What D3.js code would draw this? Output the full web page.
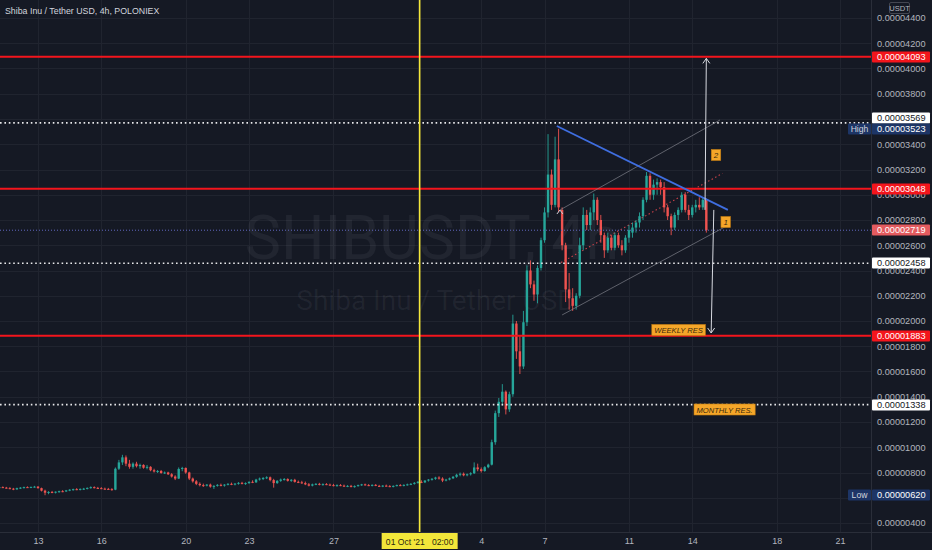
<!DOCTYPE html>
<html>
<head>
<meta charset="utf-8">
<script src="https://cdn.jsdelivr.net/npm/d3@7"></script>
<style>
html, body { margin: 0; padding: 0; background: #151924; }
svg { display: block; font-family: "Liberation Sans", Arial, sans-serif; }
</style>
</head>
<body>
<svg id="chart" width="932" height="550"></svg>
<script>
// all prices are in units of 1e-8 USDT
var TITLE = "Shiba Inu / Tether USD, 4h, POLONIEX";
var firstBar = Date.UTC(2021, 8, 11, 4); // 4h bars from here on
var BAR_MS = 4 * 3600 * 1000;

// [open, high, low, close]
var ohlc = [
  // Sep 11
  [682,690,676,684],[684,690,678,680],[680,686,672,676],[676,684,668,672],[672,678,660,666],
  // Sep 12
  [666,680,664,676],[676,684,670,680],[680,688,674,684],[684,690,678,682],[682,688,676,686],[686,694,680,688],
  // Sep 13
  [688,692,672,676],[676,680,650,656],[656,664,620,640],[640,652,628,646],[646,654,636,642],[642,650,634,648],
  // Sep 14
  [648,656,640,652],[652,660,644,650],[650,662,646,658],[658,668,652,664],[664,672,656,668],[668,676,660,664],
  // Sep 15
  [664,674,658,670],[670,678,662,672],[672,682,666,678],[678,690,672,684],[684,690,674,678],[678,686,670,676],
  // Sep 16
  [676,684,668,672],[672,680,664,670],[670,678,662,668],[668,676,656,664],[664,840,660,830],[830,900,820,880],
  // Sep 17
  [880,940,860,920],[920,935,850,870],[870,900,830,845],[845,880,830,870],[870,885,840,850],[850,870,830,860],
  // Sep 18
  [860,865,830,838],[838,860,825,845],[845,850,810,818],[818,830,800,808],[808,820,796,812],[812,820,790,796],
  // Sep 19
  [796,808,788,800],[800,806,780,786],[786,795,760,768],[768,778,740,752],[752,840,748,828],[828,845,810,836],
  // Sep 20
  [836,840,790,800],[800,806,740,752],[752,760,720,730],[730,740,700,710],[710,722,690,700],[700,712,686,696],
  // Sep 21
  [696,708,690,704],[704,712,680,688],[688,700,670,694],[694,708,688,702],[702,712,690,696],[696,708,688,704],
  // Sep 22
  [704,716,698,710],[710,720,700,706],[706,716,698,712],[712,724,704,718],[718,726,706,712],[712,722,702,716],
  // Sep 23
  [716,730,710,726],[726,738,716,722],[722,750,718,744],[744,760,736,752],[752,764,740,756],[756,770,748,762],
  // Sep 24
  [762,768,730,740],[740,750,680,716],[716,740,710,734],[734,752,726,744],[744,756,736,748],[748,754,728,734],
  // Sep 25
  [734,748,726,742],[742,750,720,726],[726,736,716,722],[722,734,710,716],[716,728,700,706],[706,716,690,696],
  // Sep 26
  [696,712,690,706],[706,716,700,710],[710,718,698,702],[702,714,696,708],[708,716,700,704],[704,712,696,700],
  // Sep 27
  [700,710,690,694],[694,706,688,700],[700,708,692,696],[696,704,686,690],[690,700,684,694],[694,702,682,686],
  // Sep 28
  [686,698,680,692],[692,704,688,700],[700,710,694,706],[706,712,696,700],[700,708,692,696],[696,706,690,702],
  // Sep 29
  [702,708,692,694],[694,702,686,690],[690,700,684,696],[696,704,688,692],[692,700,684,688],[688,698,682,694],
  // Sep 30
  [694,704,690,700],[700,708,692,696],[696,706,690,702],[702,712,696,706],[706,716,700,710],[710,724,704,718],
  // Oct 1
  [718,732,712,726],[726,738,716,722],[722,740,716,736],[736,748,728,744],[744,756,736,750],[750,766,742,760],
  // Oct 2
  [760,770,744,752],[752,762,724,736],[736,750,730,744],[744,760,738,754],[754,772,748,766],[766,790,758,782],
  // Oct 3
  [782,800,770,790],[790,800,770,778],[778,792,770,786],[786,802,776,794],[794,880,788,840],[840,870,810,826],
  // Oct 4
  [826,840,800,812],[812,850,806,842],[842,870,834,862],[862,1060,856,1040],[1040,1290,1020,1270],[1270,1390,1240,1360],
  // Oct 5
  [1360,1500,1330,1440],[1440,1450,1260,1300],[1300,1440,1280,1420],[1420,2050,1400,1980],[1980,2000,1700,1760],[1760,1880,1580,1640],
  // Oct 6
  [1640,2080,1620,1990],[1990,2440,1960,2400],[2400,2480,2260,2290],[2290,2320,2160,2210],[2210,2440,2140,2420],[2420,2660,2400,2640],
  // Oct 7
  [2640,2900,2620,2860],[2860,3480,2820,3160],[3160,3200,2880,2920],[2920,3460,2900,3280],[3280,3523,2860,2900],[2880,2900,2560,2600],
  // Oct 8
  [2600,2620,2150,2250],[2250,2380,2090,2180],[2180,2260,2080,2120],[2120,2220,2090,2200],[2200,2660,2180,2600],[2600,2900,2560,2840],
  // Oct 9
  [2840,2880,2720,2760],[2760,2900,2720,2860],[2860,3010,2800,2960],[2960,2980,2760,2800],[2800,2840,2620,2680],[2680,2700,2500,2560],
  // Oct 10
  [2560,2700,2540,2660],[2660,2680,2560,2580],[2580,2700,2560,2680],[2680,2700,2580,2600],[2600,2640,2520,2560],[2560,2680,2540,2660],
  // Oct 11
  [2660,2760,2620,2720],[2700,2780,2660,2740],[2740,2800,2700,2780],[2780,2860,2740,2830],[2830,2980,2800,2960],[2960,3180,2940,3150],
  // Oct 12
  [3150,3170,2960,3000],[3000,3120,2960,3080],[3080,3130,3000,3100],[3100,3120,3000,3060],[3060,3100,2860,2900],[2900,2920,2800,2830],
  // Oct 13
  [2830,2850,2680,2740],[2740,2860,2720,2840],[2840,2900,2800,2880],[2880,3020,2860,3000],[3000,3020,2860,2880],[2880,2920,2800,2840],
  // Oct 14
  [2840,2920,2820,2900],[2900,2960,2860,2920],[2920,2980,2880,2900],[2900,2980,2880,2960],[2960,2970,2700,2719]
];

var priceTicks = [400,600,800,1000,1200,1400,1600,1800,2000,2200,2400,2600,2800,3000,3200,3400,3600,3800,4000,4200,4400];
var coveredTicks = [600, 3600]; // sit under the High / Low / level tags
var dateTicks = ["2021-09-13","2021-09-16","2021-09-20","2021-09-23","2021-09-27","2021-10-01",
                 "2021-10-04","2021-10-07","2021-10-11","2021-10-14","2021-10-18","2021-10-21"];
var dateTickLabels = ["13","16","20","23","27","","4","7","11","14","18","21"];

var resistanceLevels = [4093, 3048, 1883];   // solid red
var dottedLevels = [3569, 2458, 1338];       // dotted white
var lastPrice = 2719;
var highPrice = 3523, lowPrice = 620;
var crosshairTime = "2021-10-01T02:00Z";
var crosshairLabel = "01 Oct '21   02:00";

// drawings, as [time, price]
var trendLine = [["2021-10-07T14:00Z", 3545], ["2021-10-15T16:30Z", 2880]];
var channelUpper = [["2021-10-07T17:30Z", 2879], ["2021-10-15T07:30Z", 3592]];
var channelLower = [["2021-10-07T20:00Z", 2048], ["2021-10-15T13:00Z", 2745]];
var targetUp = [["2021-10-14T14:30Z", 2880], ["2021-10-14T16:00Z", 4080]];
var targetDown = [["2021-10-15T00:30Z", 2880], ["2021-10-14T21:30Z", 1905]];
var notes = [
  {text: "2", time: "2021-10-15T03:00Z", price: 3315, small: true},
  {text: "1", time: "2021-10-15T14:00Z", price: 2784, small: true},
  {text: "WEEKLY RES", time: "2021-10-12T02:00Z", price: 1929},
  {text: "MONTHLY RES.", time: "2021-10-14T02:00Z", price: 1299}
];

var PLOT_R = 871, PLOT_B = 532;
var UP = "#26a69a", DOWN = "#ef5350";
var RED = "#f3151c", ORANGE = "#f5a629";

var svg = d3.select("#chart");
var x = d3.scaleUtc()
    .domain([new Date("2021-09-13T00:00Z"), new Date("2021-10-21T00:00Z")])
    .range([38, 840]);
var y = d3.scaleLinear().domain([400, 4400]).range([523, 18]);
var pt = function(p) { return [x(new Date(p[0])), y(p[1])]; };
var fmt = function(v) { return (v * 1e-8).toFixed(8); };

svg.append("rect").attr("width", 932).attr("height", 550).attr("fill", "#151924");
svg.append("defs").append("clipPath").attr("id", "plot")
   .append("rect").attr("width", PLOT_R).attr("height", PLOT_B);

// grid
var grid = svg.append("g").attr("stroke", "#20242f").attr("stroke-width", 1);
grid.selectAll(".gy").data(priceTicks).enter().append("line")
    .attr("x1", 0).attr("x2", PLOT_R)
    .attr("y1", function(d) { return Math.round(y(d)) + 0.5; })
    .attr("y2", function(d) { return Math.round(y(d)) + 0.5; });
grid.selectAll(".gx").data(dateTicks).enter().append("line")
    .attr("y1", 0).attr("y2", PLOT_B)
    .attr("x1", function(d) { return Math.round(x(new Date(d))) + 0.5; })
    .attr("x2", function(d) { return Math.round(x(new Date(d))) + 0.5; });

// watermark
var wm = svg.append("g").attr("fill", "#d1d4dc").attr("fill-opacity", 0.065)
    .attr("text-anchor", "middle").attr("font-family", "Roboto, sans-serif");
wm.append("text").attr("x", 432).attr("y", 259).attr("font-size", 61).text("SHIBUSDT, 4h");
wm.append("text").attr("x", 436).attr("y", 310).attr("font-size", 28).text("Shiba Inu / Tether USD");

var plot = svg.append("g").attr("clip-path", "url(#plot)");

// channel mid line sits under the candles
var mid = [
  [(pt(channelUpper[0])[0] + pt(channelLower[0])[0]) / 2, (pt(channelUpper[0])[1] + pt(channelLower[0])[1]) / 2],
  [(pt(channelUpper[1])[0] + pt(channelLower[1])[0]) / 2, (pt(channelUpper[1])[1] + pt(channelLower[1])[1]) / 2]
];
plot.append("line")
    .attr("x1", mid[0][0]).attr("y1", mid[0][1]).attr("x2", mid[1][0]).attr("y2", mid[1][1])
    .attr("stroke", "#c9424a").attr("stroke-width", 1.1).attr("stroke-dasharray", "1.5,2.5");

// candles
var bars = plot.selectAll(".bar").data(ohlc).enter().append("g")
    .attr("transform", function(d, i) { return "translate(" + x(new Date(firstBar + i * BAR_MS)) + ",0)"; });
bars.append("line")
    .attr("y1", function(d) { return y(d[1]); })
    .attr("y2", function(d) { return y(d[2]); })
    .attr("stroke", function(d) { return d[3] >= d[0] ? UP : DOWN; })
    .attr("stroke-width", 0.9);
bars.append("rect")
    .attr("x", -1.2).attr("width", 2.4)
    .attr("y", function(d) { return y(Math.max(d[0], d[3])); })
    .attr("height", function(d) { return Math.max(1, Math.abs(y(d[0]) - y(d[3]))); })
    .attr("fill", function(d) { return d[3] >= d[0] ? UP : DOWN; });

// current price line
plot.append("line").attr("x1", 0).attr("x2", PLOT_R)
    .attr("y1", y(lastPrice)).attr("y2", y(lastPrice))
    .attr("stroke", "#6167c0").attr("stroke-width", 1).attr("stroke-dasharray", "1,2");

// horizontal levels
plot.selectAll(".res").data(resistanceLevels).enter().append("line")
    .attr("x1", 0).attr("x2", PLOT_R)
    .attr("y1", function(d) { return y(d); }).attr("y2", function(d) { return y(d); })
    .attr("stroke", RED).attr("stroke-width", 2);
plot.selectAll(".dot").data(dottedLevels).enter().append("line")
    .attr("x1", 0).attr("x2", PLOT_R)
    .attr("y1", function(d) { return y(d); }).attr("y2", function(d) { return y(d); })
    .attr("stroke", "#e8e8ea").attr("stroke-width", 1.6).attr("stroke-dasharray", "1.6,2.8");

// crosshair
plot.append("line")
    .attr("x1", x(new Date(crosshairTime))).attr("x2", x(new Date(crosshairTime)))
    .attr("y1", 0).attr("y2", PLOT_B)
    .attr("stroke", "#f3e73a").attr("stroke-width", 1.6);

// channel and trend line
[channelUpper, channelLower].forEach(function(seg) {
    var a = pt(seg[0]), b = pt(seg[1]);
    plot.append("line").attr("x1", a[0]).attr("y1", a[1]).attr("x2", b[0]).attr("y2", b[1])
        .attr("stroke", "#8a8d96").attr("stroke-opacity", 0.7).attr("stroke-width", 0.9);
});
(function() {
    var a = pt(channelUpper[0]);
    plot.append("path")
        .attr("d", "M" + (a[0] - 3) + "," + (a[1] + 4) + "L" + a[0] + "," + a[1] + "L" + (a[0] + 3) + "," + (a[1] + 4))
        .attr("fill", "none").attr("stroke", "#c9ccd4").attr("stroke-width", 1);
})();
(function() {
    var a = pt(trendLine[0]), b = pt(trendLine[1]);
    plot.append("line").attr("x1", a[0]).attr("y1", a[1]).attr("x2", b[0]).attr("y2", b[1])
        .attr("stroke", "#3f6ee0").attr("stroke-width", 1.8);
})();

// projection arrows
[targetUp, targetDown].forEach(function(seg) {
    var a = pt(seg[0]), b = pt(seg[1]);
    var dir = b[1] < a[1] ? 1 : -1;
    plot.append("line").attr("x1", a[0]).attr("y1", a[1]).attr("x2", b[0]).attr("y2", b[1])
        .attr("stroke", "#d7d9e0").attr("stroke-width", 1);
    plot.append("path")
        .attr("d", "M" + (b[0] - 3.5) + "," + (b[1] + dir * 5) + "L" + b[0] + "," + b[1] + "L" + (b[0] + 3.5) + "," + (b[1] + dir * 5))
        .attr("fill", "none").attr("stroke", "#d7d9e0").attr("stroke-width", 1);
});

// note labels
notes.forEach(function(n) {
    var px = x(new Date(n.time)), py = y(n.price);
    var g = plot.append("g");
    var t = g.append("text").attr("font-size", n.small ? 8 : 7.6).attr("font-style", "italic")
        .attr("fill", "#3b2a0c").attr("dominant-baseline", "central").text(n.text);
    var w = t.node().getComputedTextLength();
    var bw = w + (n.small ? 5 : 5), bh = 11;
    var bx = n.small ? px - bw / 2 : px;
    g.insert("rect", "text").attr("x", bx).attr("y", py - bh / 2).attr("width", bw).attr("height", bh)
        .attr("fill", ORANGE).attr("stroke", "#c47d12").attr("stroke-width", 0.6);
    t.attr("x", bx + (bw - w) / 2).attr("y", py + 0.5);
});

// axes frame
svg.append("line").attr("x1", PLOT_R + 0.5).attr("x2", PLOT_R + 0.5).attr("y1", 0).attr("y2", 550)
   .attr("stroke", "#2a2e39");
svg.append("line").attr("x1", 0).attr("x2", 932).attr("y1", PLOT_B + 0.5).attr("y2", PLOT_B + 0.5)
   .attr("stroke", "#2a2e39");

// price axis
var yAxis = svg.append("g").attr("transform", "translate(" + PLOT_R + ",0)")
    .call(d3.axisRight(y).tickValues(priceTicks).tickSize(0).tickPadding(6)
        .tickFormat(function(v) { return coveredTicks.indexOf(v) >= 0 ? "" : fmt(v); }));
yAxis.select(".domain").remove();
yAxis.selectAll("text").attr("fill", "#b2b5be").attr("font-size", 9.2)
    .attr("font-family", "Liberation Sans, Arial, sans-serif");

// time axis
var xAxis = svg.append("g").attr("transform", "translate(0," + PLOT_B + ")")
    .call(d3.axisBottom(x).tickValues(dateTicks.map(function(d) { return new Date(d); }))
        .tickSize(0).tickPadding(6)
        .tickFormat(function(d, i) { return dateTickLabels[i]; }));
xAxis.select(".domain").remove();
xAxis.selectAll("text").attr("fill", "#b2b5be").attr("font-size", 9)
    .attr("font-family", "Liberation Sans, Arial, sans-serif");

// price labels on the axis; dy nudges tags that would collide
function priceTag(price, bg, fg, side, dy) {
    var py = Math.round(y(price)) + (dy || 0);
    svg.append("rect").attr("x", PLOT_R + 1).attr("y", py - 5.5).attr("width", 58).attr("height", 11)
        .attr("fill", bg).attr("rx", 1);
    svg.append("text").attr("x", PLOT_R + 6).attr("y", py).attr("dominant-baseline", "central")
        .attr("font-size", 9.2).attr("fill", fg).text(fmt(price));
    if (side) {
        svg.append("rect").attr("x", PLOT_R - 23).attr("y", py - 5.5).attr("width", 23).attr("height", 11)
            .attr("fill", bg).attr("rx", 1);
        svg.append("text").attr("x", PLOT_R - 11.5).attr("y", py).attr("dominant-baseline", "central")
            .attr("text-anchor", "middle").attr("font-size", 8.6).attr("fill", "#d1d4dc").text(side);
    }
}
priceTag(dottedLevels[0], "#ffffff", "#131722", null, -5);
priceTag(dottedLevels[1], "#ffffff", "#131722");
priceTag(dottedLevels[2], "#ffffff", "#131722");
priceTag(highPrice, "#1d3566", "#ffffff", "High", 0);
priceTag(lowPrice, "#1d3566", "#ffffff", "Low");
resistanceLevels.forEach(function(p) { priceTag(p, RED, "#ffffff"); });
priceTag(lastPrice, "#e45b5f", "#ffffff");

// currency tag
svg.append("rect").attr("x", 889.5).attr("y", 2.5).attr("width", 20).attr("height", 11)
   .attr("fill", "#151924").attr("stroke", "#434651").attr("rx", 1.5);
svg.append("text").attr("x", 899.5).attr("y", 8.5).attr("text-anchor", "middle")
   .attr("dominant-baseline", "central").attr("font-size", 7.6).attr("fill", "#b2b5be").text("USDT");

// crosshair time label
(function() {
    var cx = x(new Date(crosshairTime));
    svg.append("rect").attr("x", cx - 38).attr("y", PLOT_B + 1).attr("width", 76).attr("height", 16)
        .attr("fill", "#f3e73a");
    svg.append("text").attr("x", cx).attr("y", PLOT_B + 9.5).attr("text-anchor", "middle")
        .attr("dominant-baseline", "central").attr("font-size", 8.6).attr("fill", "#2a2a10")
        .attr("xml:space", "preserve").style("white-space", "pre").text(crosshairLabel);
})();

// title
svg.append("text").attr("x", 5).attr("y", 11).attr("dominant-baseline", "central")
   .attr("font-size", 8.8).attr("fill", "#d1d4dc").text(TITLE);
</script>
</body>
</html>
